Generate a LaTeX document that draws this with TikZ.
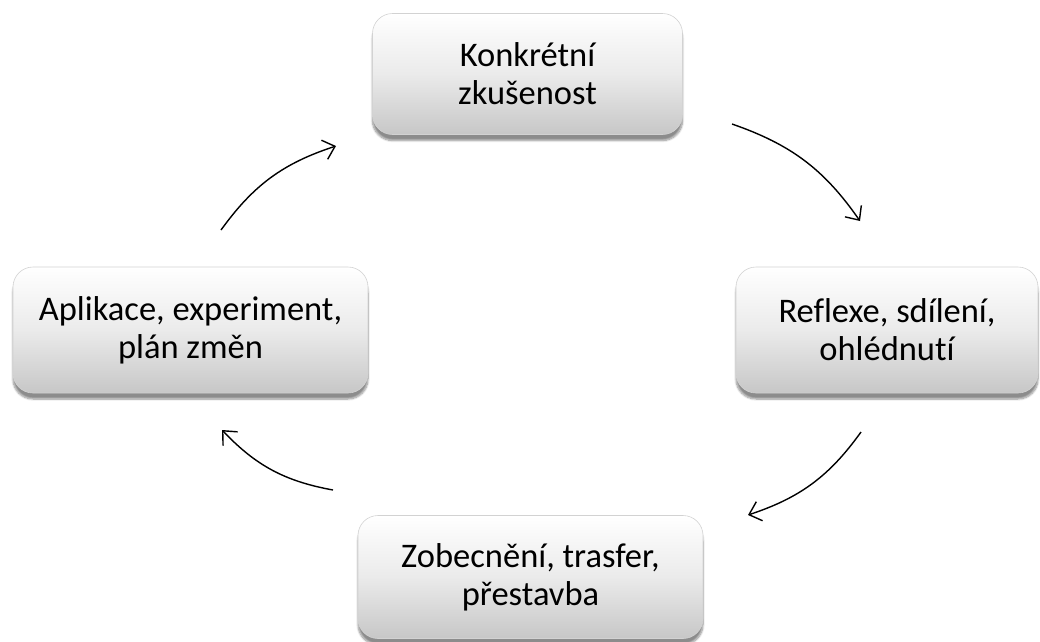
\documentclass[tikz,border=0pt]{standalone}
\usepackage{fontspec}
\setmainfont[RawFeature=-liga]{Carlito}
\usetikzlibrary{arrows.meta,shadows.blur}
\begin{document}
\begin{tikzpicture}[x=1pt,y=-1pt,
  box/.style={rounded corners=20pt, draw=gray!35, line width=0.6pt,
    top color=white, bottom color=black!22, middle color=white!92!black,
    blur shadow={shadow xshift=0pt, shadow yshift=-6pt, shadow blur steps=8, shadow opacity=45},
    align=center, font=\fontsize{34.5}{38}\selectfont, inner sep=0pt},
  cyc/.style={line width=1.4pt, -{Straight Barb[length=11pt,width=20pt,line width=1.4pt]}},
]
\useasboundingbox (0,0) rectangle (1040,641);
\node[box, minimum width=310pt, minimum height=121pt] (top) at (527.5,74) {Konkrétní\\zkušenost};
\node[box, minimum width=302pt, minimum height=126pt] (right) at (887,330) {Reflexe, sdílení,\\ohlédnutí};
\node[box, minimum width=345pt, minimum height=123pt] (bottom) at (530.5,577) {Zobecnění, trasfer,\\přestavba};
\node[box, minimum width=355pt, minimum height=126pt] (left) at (190.5,330) {Aplikace, experiment,\\plán změn};

\coordinate (a1s) at (732,124);
\coordinate (a1e) at (860,221);
\coordinate (a2s) at (861,432);
\coordinate (a2e) at (748,515);
\coordinate (a3s) at (333,490);
\coordinate (a3e) at (222,430);
\coordinate (a4s) at (221,230);
\coordinate (a4e) at (336,146);

\draw[cyc] (a1s) to[bend left=18] (a1e);
\draw[cyc] (a2s) to[bend left=18] (a2e);
\draw[cyc] (a3s) to[bend left=18] (a3e);
\draw[cyc] (a4s) to[bend left=18] (a4e);
\end{tikzpicture}
\end{document}
